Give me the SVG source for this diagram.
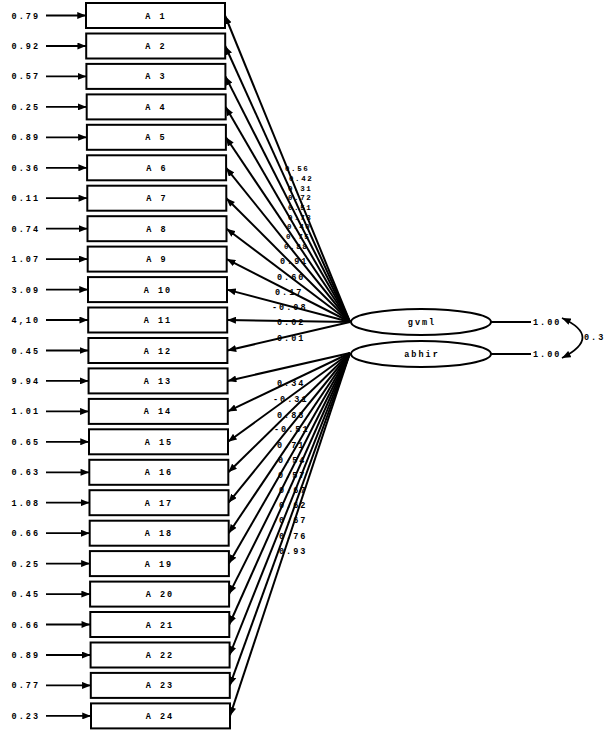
<svg xmlns="http://www.w3.org/2000/svg" width="609" height="730" viewBox="0 0 609 730">
<defs>
<marker id="ah" viewBox="0 0 10 8" refX="10" refY="4" markerWidth="9" markerHeight="7" markerUnits="userSpaceOnUse" orient="auto-start-reverse">
<path d="M0,0 L10,4 L0,8 Z" fill="#000"/>
</marker>
</defs>
<style>
text{font-family:"Liberation Mono","DejaVu Sans Mono",monospace;font-weight:bold;font-size:8.5px;fill:#000;letter-spacing:2px}
.box rect{fill:#fff;stroke:#000;stroke-width:2}
.box text{text-anchor:middle}
.err{text-anchor:end}
.sm{font-size:7.5px;letter-spacing:1.6px}
.c line,.c path{stroke:#000;stroke-width:1.8;fill:none}
.c .ld{stroke-width:2}
.lat ellipse{fill:#fff;stroke:#000;stroke-width:2}
.lat text{text-anchor:middle}
</style>
<rect width="609" height="730" fill="#fff"/>

<g id="connectors" class="c">
<line x1="46" y1="15.5" x2="86" y2="15.5" marker-end="url(#ah)"/>
<line x1="46" y1="46" x2="86.2" y2="46" marker-end="url(#ah)"/>
<line x1="46" y1="76.4" x2="86.4" y2="76.4" marker-end="url(#ah)"/>
<line x1="46" y1="106.9" x2="86.7" y2="106.9" marker-end="url(#ah)"/>
<line x1="46" y1="137.3" x2="86.9" y2="137.3" marker-end="url(#ah)"/>
<line x1="46" y1="167.8" x2="87.1" y2="167.8" marker-end="url(#ah)"/>
<line x1="46" y1="198.2" x2="87.3" y2="198.2" marker-end="url(#ah)"/>
<line x1="46" y1="228.7" x2="87.5" y2="228.7" marker-end="url(#ah)"/>
<line x1="46" y1="259.1" x2="87.7" y2="259.1" marker-end="url(#ah)"/>
<line x1="46" y1="289.6" x2="88" y2="289.6" marker-end="url(#ah)"/>
<line x1="46" y1="320" x2="88.2" y2="320" marker-end="url(#ah)"/>
<line x1="46" y1="350.5" x2="88.4" y2="350.5" marker-end="url(#ah)"/>
<line x1="46" y1="380.9" x2="88.6" y2="380.9" marker-end="url(#ah)"/>
<line x1="46" y1="411.4" x2="88.8" y2="411.4" marker-end="url(#ah)"/>
<line x1="46" y1="441.8" x2="89" y2="441.8" marker-end="url(#ah)"/>
<line x1="46" y1="472.3" x2="89.3" y2="472.3" marker-end="url(#ah)"/>
<line x1="46" y1="502.7" x2="89.5" y2="502.7" marker-end="url(#ah)"/>
<line x1="46" y1="533.2" x2="89.7" y2="533.2" marker-end="url(#ah)"/>
<line x1="46" y1="563.6" x2="89.9" y2="563.6" marker-end="url(#ah)"/>
<line x1="46" y1="594.1" x2="90.1" y2="594.1" marker-end="url(#ah)"/>
<line x1="46" y1="624.5" x2="90.3" y2="624.5" marker-end="url(#ah)"/>
<line x1="46" y1="655" x2="90.6" y2="655" marker-end="url(#ah)"/>
<line x1="46" y1="685.4" x2="90.8" y2="685.4" marker-end="url(#ah)"/>
<line x1="46" y1="715.9" x2="91" y2="715.9" marker-end="url(#ah)"/>
<line class="ld" x1="350" y1="322" x2="225" y2="15.5" marker-end="url(#ah)"/>
<line class="ld" x1="350" y1="322" x2="225.2" y2="46" marker-end="url(#ah)"/>
<line class="ld" x1="350" y1="322" x2="225.4" y2="76.4" marker-end="url(#ah)"/>
<line class="ld" x1="350" y1="322" x2="225.7" y2="106.9" marker-end="url(#ah)"/>
<line class="ld" x1="350" y1="322" x2="225.9" y2="137.3" marker-end="url(#ah)"/>
<line class="ld" x1="350" y1="322" x2="226.1" y2="167.8" marker-end="url(#ah)"/>
<line class="ld" x1="350" y1="322" x2="226.3" y2="198.2" marker-end="url(#ah)"/>
<line class="ld" x1="350" y1="322" x2="226.5" y2="228.7" marker-end="url(#ah)"/>
<line class="ld" x1="350" y1="322" x2="226.7" y2="259.1" marker-end="url(#ah)"/>
<line class="ld" x1="350" y1="322" x2="227" y2="289.6" marker-end="url(#ah)"/>
<line class="ld" x1="350" y1="322" x2="227.2" y2="320" marker-end="url(#ah)"/>
<line class="ld" x1="350" y1="322" x2="227.4" y2="350.5" marker-end="url(#ah)"/>
<line class="ld" x1="350" y1="353" x2="227.6" y2="380.9" marker-end="url(#ah)"/>
<line class="ld" x1="350" y1="353" x2="227.8" y2="411.4" marker-end="url(#ah)"/>
<line class="ld" x1="350" y1="353" x2="228" y2="441.8" marker-end="url(#ah)"/>
<line class="ld" x1="350" y1="353" x2="228.3" y2="472.3" marker-end="url(#ah)"/>
<line class="ld" x1="350" y1="353" x2="228.5" y2="502.7" marker-end="url(#ah)"/>
<line class="ld" x1="350" y1="353" x2="228.7" y2="533.2" marker-end="url(#ah)"/>
<line class="ld" x1="350" y1="353" x2="228.9" y2="563.6" marker-end="url(#ah)"/>
<line class="ld" x1="350" y1="353" x2="229.1" y2="594.1" marker-end="url(#ah)"/>
<line class="ld" x1="350" y1="353" x2="229.3" y2="624.5" marker-end="url(#ah)"/>
<line class="ld" x1="350" y1="353" x2="229.6" y2="655" marker-end="url(#ah)"/>
<line class="ld" x1="350" y1="353" x2="229.8" y2="685.4" marker-end="url(#ah)"/>
<line class="ld" x1="350" y1="353" x2="230" y2="715.9" marker-end="url(#ah)"/>
<line x1="491" y1="322" x2="531" y2="322"/>
<line x1="491" y1="354" x2="531" y2="354"/>
<path d="M562,318 Q603,337 562,358" marker-start="url(#ah)" marker-end="url(#ah)"/>
</g>

<g id="error-labels">
<text class="err" x="40" y="18.5">0.79</text>
<text class="err" x="40" y="49">0.92</text>
<text class="err" x="40" y="79.4">0.57</text>
<text class="err" x="40" y="109.9">0.25</text>
<text class="err" x="40" y="140.3">0.89</text>
<text class="err" x="40" y="170.8">0.36</text>
<text class="err" x="40" y="201.2">0.11</text>
<text class="err" x="40" y="231.7">0.74</text>
<text class="err" x="40" y="262.1">1.07</text>
<text class="err" x="40" y="292.6">3.09</text>
<text class="err" x="40" y="323">4,10</text>
<text class="err" x="40" y="353.5">0.45</text>
<text class="err" x="40" y="383.9">9.94</text>
<text class="err" x="40" y="414.4">1.01</text>
<text class="err" x="40" y="444.8">0.65</text>
<text class="err" x="40" y="475.3">0.63</text>
<text class="err" x="40" y="505.7">1.08</text>
<text class="err" x="40" y="536.2">0.66</text>
<text class="err" x="40" y="566.6">0.25</text>
<text class="err" x="40" y="597.1">0.45</text>
<text class="err" x="40" y="627.5">0.66</text>
<text class="err" x="40" y="658">0.89</text>
<text class="err" x="40" y="688.4">0.77</text>
<text class="err" x="40" y="718.9">0.23</text>
</g>

<g id="A1" class="box"><rect x="86" y="3" width="139" height="25"/><text x="156" y="18.5">A 1</text></g>
<g id="A2" class="box"><rect x="86.2" y="33.5" width="139" height="25"/><text x="156" y="49">A 2</text></g>
<g id="A3" class="box"><rect x="86.4" y="63.9" width="139" height="25"/><text x="156" y="79.4">A 3</text></g>
<g id="A4" class="box"><rect x="86.7" y="94.4" width="139" height="25"/><text x="156" y="109.9">A 4</text></g>
<g id="A5" class="box"><rect x="86.9" y="124.8" width="139" height="25"/><text x="156" y="140.3">A 5</text></g>
<g id="A6" class="box"><rect x="87.1" y="155.3" width="139" height="25"/><text x="157" y="170.8">A 6</text></g>
<g id="A7" class="box"><rect x="87.3" y="185.7" width="139" height="25"/><text x="157" y="201.2">A 7</text></g>
<g id="A8" class="box"><rect x="87.5" y="216.2" width="139" height="25"/><text x="157" y="231.7">A 8</text></g>
<g id="A9" class="box"><rect x="87.7" y="246.6" width="139" height="25"/><text x="157" y="262.1">A 9</text></g>
<g id="A10" class="box"><rect x="88" y="277.1" width="139" height="25"/><text x="158" y="292.6">A 10</text></g>
<g id="A11" class="box"><rect x="88.2" y="307.5" width="139" height="25"/><text x="158" y="323">A 11</text></g>
<g id="A12" class="box"><rect x="88.4" y="338" width="139" height="25"/><text x="158" y="353.5">A 12</text></g>
<g id="A13" class="box"><rect x="88.6" y="368.4" width="139" height="25"/><text x="158" y="383.9">A 13</text></g>
<g id="A14" class="box"><rect x="88.8" y="398.9" width="139" height="25"/><text x="158" y="414.4">A 14</text></g>
<g id="A15" class="box"><rect x="89" y="429.3" width="139" height="25"/><text x="159" y="444.8">A 15</text></g>
<g id="A16" class="box"><rect x="89.3" y="459.8" width="139" height="25"/><text x="159" y="475.3">A 16</text></g>
<g id="A17" class="box"><rect x="89.5" y="490.2" width="139" height="25"/><text x="159" y="505.7">A 17</text></g>
<g id="A18" class="box"><rect x="89.7" y="520.7" width="139" height="25"/><text x="159" y="536.2">A 18</text></g>
<g id="A19" class="box"><rect x="89.9" y="551.1" width="139" height="25"/><text x="159" y="566.6">A 19</text></g>
<g id="A20" class="box"><rect x="90.1" y="581.6" width="139" height="25"/><text x="160" y="597.1">A 20</text></g>
<g id="A21" class="box"><rect x="90.3" y="612" width="139" height="25"/><text x="160" y="627.5">A 21</text></g>
<g id="A22" class="box"><rect x="90.6" y="642.5" width="139" height="25"/><text x="160" y="658">A 22</text></g>
<g id="A23" class="box"><rect x="90.8" y="672.9" width="139" height="25"/><text x="160" y="688.4">A 23</text></g>
<g id="A24" class="box"><rect x="91" y="703.4" width="139" height="25"/><text x="160" y="718.9">A 24</text></g>

<g id="gvml-loadings">
<text class="sm" x="285" y="171">0.56</text>
<text class="sm" x="289" y="181">0.42</text>
<text class="sm" x="288" y="190.5">0.31</text>
<text class="sm" x="288" y="200">0.72</text>
<text class="sm" x="288" y="210">0.51</text>
<text class="sm" x="288" y="219.5">0.73</text>
<text class="sm" x="287" y="229">0.40</text>
<text class="sm" x="286" y="239">0.75</text>
<text class="sm" x="284" y="249">0.88</text>
<text x="280" y="264">0.91</text>
<text x="277" y="280">0.60</text>
<text x="275" y="295">0.17</text>
<text x="272" y="310">-0.08</text>
<text x="277" y="325">0.02</text>
<text x="277" y="341">0.01</text>
</g>

<g id="abhir-loadings">
<text x="277" y="386">0.34</text>
<text x="273" y="402">-0.31</text>
<text x="277" y="418">0.83</text>
<text x="274" y="432">-0.51</text>
<text x="277" y="448">0.71</text>
<text x="278" y="463">0.54</text>
<text x="278" y="478">0.57</text>
<text x="279" y="493">0.67</text>
<text x="279" y="508">0.62</text>
<text x="279" y="523">0.67</text>
<text x="279" y="539">0.76</text>
<text x="279" y="554">0.93</text>
</g>

<g id="gvml" class="lat"><ellipse cx="421" cy="322" rx="70" ry="13"/><text x="422" y="325">gvml</text></g>
<g id="abhir" class="lat"><ellipse cx="421" cy="354" rx="70" ry="13"/><text x="422" y="357">abhir</text></g>

<g id="latent-labels">
<text x="533" y="325">1.00</text>
<text x="533" y="357">1.00</text>
<text x="584" y="340">0.3</text>
</g>
</svg>
